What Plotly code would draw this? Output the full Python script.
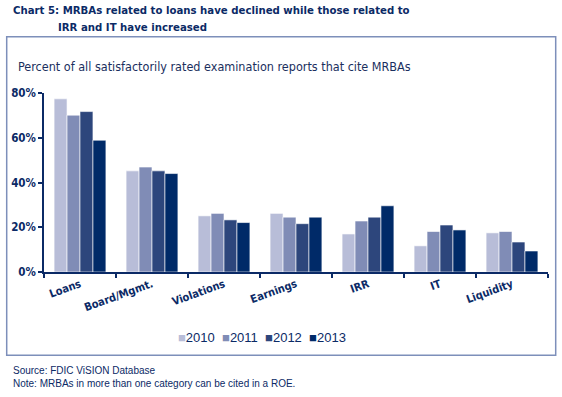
import plotly.graph_objects as go

categories = ["Loans", "Board/Mgmt.", "Violations", "Earnings", "IRR", "IT", "Liquidity"]
years = ["2010", "2011", "2012", "2013"]
values = {
    "2010": [77.4, 45.2, 25.1, 26.2, 17.0, 11.7, 17.5],
    "2011": [70.1, 46.9, 26.2, 24.5, 22.8, 18.1, 18.1],
    "2012": [71.7, 45.2, 23.3, 21.6, 24.5, 21.0, 13.4],
    "2013": [58.9, 44.0, 22.1, 24.5, 29.6, 18.8, 9.4],
}
yticks = [0, 20, 40, 60, 80]
ytick_labels = ["0%", "20%", "40%", "60%", "80%"]

colors = {"2010": "#B8BDD8", "2011": "#808CB6", "2012": "#2D467C", "2013": "#002A68"}
NAVY = "#0B2A66"
COND = "DejaVu Sans Condensed, sans-serif"
REG = "Liberation Sans, Arial, sans-serif"

W, H = 562, 397
L, R, T, B = 44, 14, 93, 125
pw, ph = W - L - R, H - T - B

def px(x):
    return (x - L) / pw

def py(y):
    return (H - B - y) / ph

fig = go.Figure()
for yr in years:
    fig.add_trace(go.Bar(
        x=categories, y=values[yr], name=yr,
        marker=dict(color=colors[yr], line=dict(color="white", width=0.6)),
    ))

legend_text = "&nbsp;&nbsp;".join(
    f"<span style='color:{colors[yr]}'>■</span>{yr}" for yr in years
)

fig.update_layout(
    width=W, height=H,
    margin=dict(l=L, r=R, t=T, b=B, autoexpand=False),
    paper_bgcolor="white", plot_bgcolor="white",
    barmode="group", bargap=0.28, bargroupgap=0,
    showlegend=False,
    xaxis=dict(
        type="category", showgrid=False, showline=True, linecolor=NAVY, linewidth=1.5,
        ticks="outside", tickson="boundaries", ticklen=4, tickcolor=NAVY, tickwidth=1.5,
        tickangle=-20, automargin=False,
        tickfont=dict(family=COND, size=11, color=NAVY, weight="bold"),
    ),
    yaxis=dict(
        range=[0, 80], showgrid=False, showline=True, linecolor=NAVY, linewidth=1.5,
        ticks="outside", ticklen=4, tickcolor=NAVY, tickwidth=1.5, automargin=False,
        tickvals=yticks, ticktext=ytick_labels, zeroline=False,
        tickfont=dict(family=COND, size=11.5, color=NAVY, weight="bold"),
    ),
    shapes=[dict(type="rect", xref="paper", yref="paper",
                 x0=px(6.7), x1=px(555.7), y0=py(355.3), y1=py(36.7),
                 line=dict(color="#7D8FBA", width=1.5), layer="below")],
    annotations=[
        dict(text="Chart 5: MRBAs related to loans have declined while those related to",
             xref="paper", yref="paper", x=px(11), y=py(11), xanchor="left", yanchor="middle",
             showarrow=False, font=dict(family=COND, size=11.3, color=NAVY, weight="bold")),
        dict(text="IRR and IT have increased",
             xref="paper", yref="paper", x=px(56), y=py(27), xanchor="left", yanchor="middle",
             showarrow=False, font=dict(family=COND, size=11.3, color=NAVY, weight="bold")),
        dict(text="Percent of all satisfactorily rated examination reports that cite MRBAs",
             xref="paper", yref="paper", x=px(16), y=py(66), xanchor="left", yanchor="middle",
             showarrow=False, font=dict(family=COND, size=12.5, color="#1A2F5E")),
        dict(text=legend_text,
             xref="paper", yref="paper", x=px(262), y=py(337), xanchor="center", yanchor="middle",
             showarrow=False, font=dict(family=REG, size=13, color=NAVY)),
        dict(text="Source: FDIC ViSION Database",
             xref="paper", yref="paper", x=px(11), y=py(370), xanchor="left", yanchor="middle",
             showarrow=False, font=dict(family=REG, size=10, color=NAVY)),
        dict(text="Note: MRBAs in more than one category can be cited in a ROE.",
             xref="paper", yref="paper", x=px(11), y=py(383), xanchor="left", yanchor="middle",
             showarrow=False, font=dict(family=REG, size=10, color=NAVY)),
    ],
)

fig.write_html("out.html", config={"displayModeBar": False},
               post_script="document.body.style.margin='0';")
